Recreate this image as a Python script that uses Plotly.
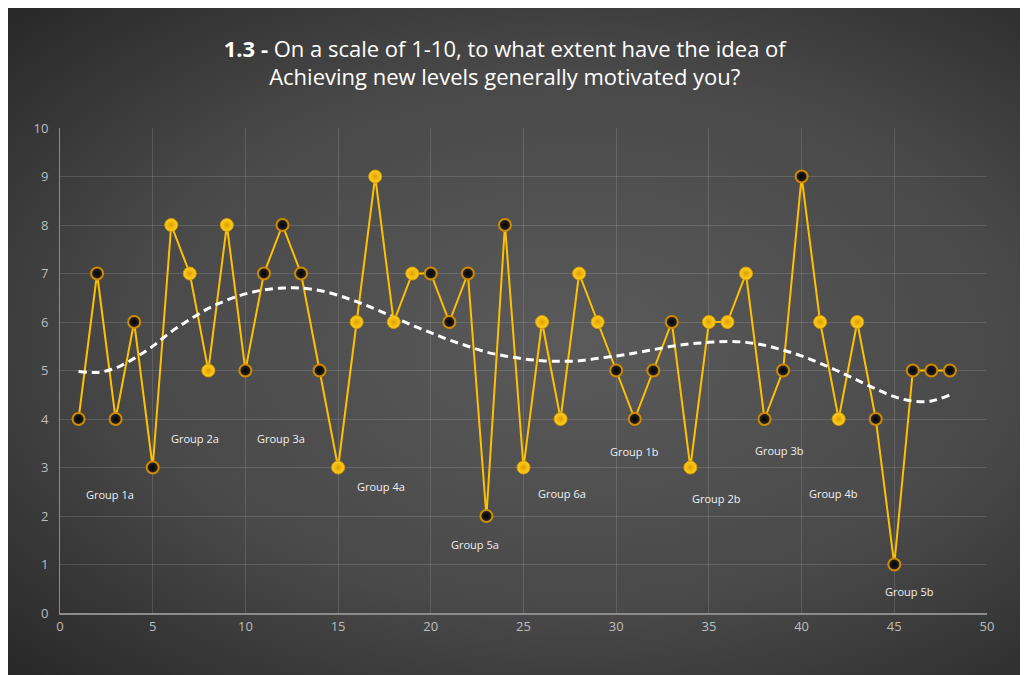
import base64
import plotly.graph_objects as go

# respondent number and score (1-10)
respondent = list(range(1, 49))
score = [4, 7, 4, 6, 3, 8, 7, 5, 8, 5, 7, 8, 7, 5, 3, 6, 9, 6, 7, 7, 6, 7, 2, 8,
         3, 6, 4, 7, 6, 5, 4, 5, 6, 3, 6, 6, 7, 4, 5, 9, 6, 4, 6, 4, 1, 5, 5, 5]
# which marker style each point has: 'a' = dark centre, 'b' = gold
style = ['a'] * 5 + ['b'] * 4 + ['a'] * 5 + ['b'] * 5 + ['a'] * 5 + ['b'] * 5 + \
        ['a'] * 4 + ['b'] * 4 + ['a'] * 3 + ['b'] * 3 + ['a'] * 5

# polynomial trendline
trend = [4.98, 4.96, 5.05, 5.25, 5.5, 5.8, 6.05, 6.28, 6.45, 6.58, 6.66, 6.7,
         6.7, 6.65, 6.55, 6.42, 6.27, 6.1, 5.93, 5.78, 5.63, 5.5, 5.38, 5.3,
         5.24, 5.2, 5.19, 5.2, 5.25, 5.3, 5.36, 5.43, 5.5, 5.55, 5.58, 5.6,
         5.58, 5.52, 5.42, 5.3, 5.15, 4.98, 4.8, 4.62, 4.46, 4.37, 4.37, 4.5]

group_names = ['Group 1a', 'Group 2a', 'Group 3a', 'Group 4a', 'Group 5a', 'Group 6a',
               'Group 1b', 'Group 2b', 'Group 3b', 'Group 4b', 'Group 5b']
group_x = [2.7, 7.3, 11.9, 17.3, 22.4, 27.1, 31.0, 35.4, 38.8, 41.7, 45.8]
group_y = [2.45, 3.6, 3.6, 2.6, 1.42, 2.47, 3.34, 2.37, 3.36, 2.47, 0.45]

FONT = 'Open Sans'

# dark radial background as an svg image
svg = ('<svg xmlns="http://www.w3.org/2000/svg" width="1023" height="669" viewBox="0 0 1023 669">'
       '<defs><radialGradient id="g" cx="0.52" cy="0.5" r="0.72">'
       '<stop offset="0" stop-color="#5a5a5a"/><stop offset="0.55" stop-color="#494949"/>'
       '<stop offset="1" stop-color="#262626"/></radialGradient></defs>'
       '<rect width="1023" height="669" fill="url(#g)"/></svg>')
bg_src = 'data:image/svg+xml;base64,' + base64.b64encode(svg.encode()).decode()

xa = [x for x, s in zip(respondent, style) if s == 'a']
ya = [y for y, s in zip(score, style) if s == 'a']
xb = [x for x, s in zip(respondent, style) if s == 'b']
yb = [y for y, s in zip(score, style) if s == 'b']

data = [
    go.Scatter(x=respondent, y=score, mode='lines',
               line=dict(color='#FFC000', width=2), hoverinfo='skip'),
    go.Scatter(x=respondent, y=trend, mode='lines',
               line=dict(color='white', width=3, dash='8px,5px', shape='spline'),
               hoverinfo='skip'),
    go.Scatter(x=xa, y=ya, mode='markers',
               marker=dict(size=12, color='#2a2a2a',
                           gradient=dict(type='radial', color='#000000'),
                           line=dict(color='#D08A00', width=2))),
    go.Scatter(x=xb, y=yb, mode='markers',
               marker=dict(size=13, color='#FFD21F',
                           gradient=dict(type='radial', color='#E09E00'),
                           line=dict(color='#D89A00', width=1))),
]

annotations = [dict(x=gx, y=gy, text=name, showarrow=False,
                    font=dict(family=FONT, size=11, color='#f0f0f0'))
               for name, gx, gy in zip(group_names, group_x, group_y)]

# the page adds an 8px body margin, so the figure is 8px smaller
layout = go.Layout(
    width=1020, height=667,
    margin=dict(l=52, r=41, t=120, b=62),
    paper_bgcolor='white',
    plot_bgcolor='rgba(0,0,0,0)',
    showlegend=False,
    title=dict(text='<b>1.3 -</b> On a scale of 1-10, to what extent have the idea of<br>'
                    'Achieving new levels generally motivated you?',
               x=0.487, xanchor='center', y=0.927, yanchor='middle',
               font=dict(family=FONT, size=22, color='white')),
    xaxis=dict(range=[0, 50], dtick=5, showgrid=True, gridcolor='rgba(255,255,255,0.13)',
               zeroline=False, showline=True, linecolor='#8c8c8c', linewidth=2,
               ticks='', tickfont=dict(family=FONT, size=13, color='#bdbdbd')),
    yaxis=dict(range=[0, 10], dtick=1, showgrid=True, gridcolor='rgba(255,255,255,0.13)',
               zeroline=False, showline=True, linecolor='#8c8c8c', linewidth=1,
               ticks='', ticklabelstandoff=8,
               tickfont=dict(family=FONT, size=13, color='#bdbdbd')),
    annotations=annotations,
    images=[dict(source=bg_src, xref='paper', yref='paper',
                 x=-0.07, y=1.26, sizex=1.2, sizey=1.4,
                 xanchor='left', yanchor='top', sizing='stretch', layer='below')],
)

fig = go.Figure(data=data, layout=layout)
fig.write_html('out.html')
